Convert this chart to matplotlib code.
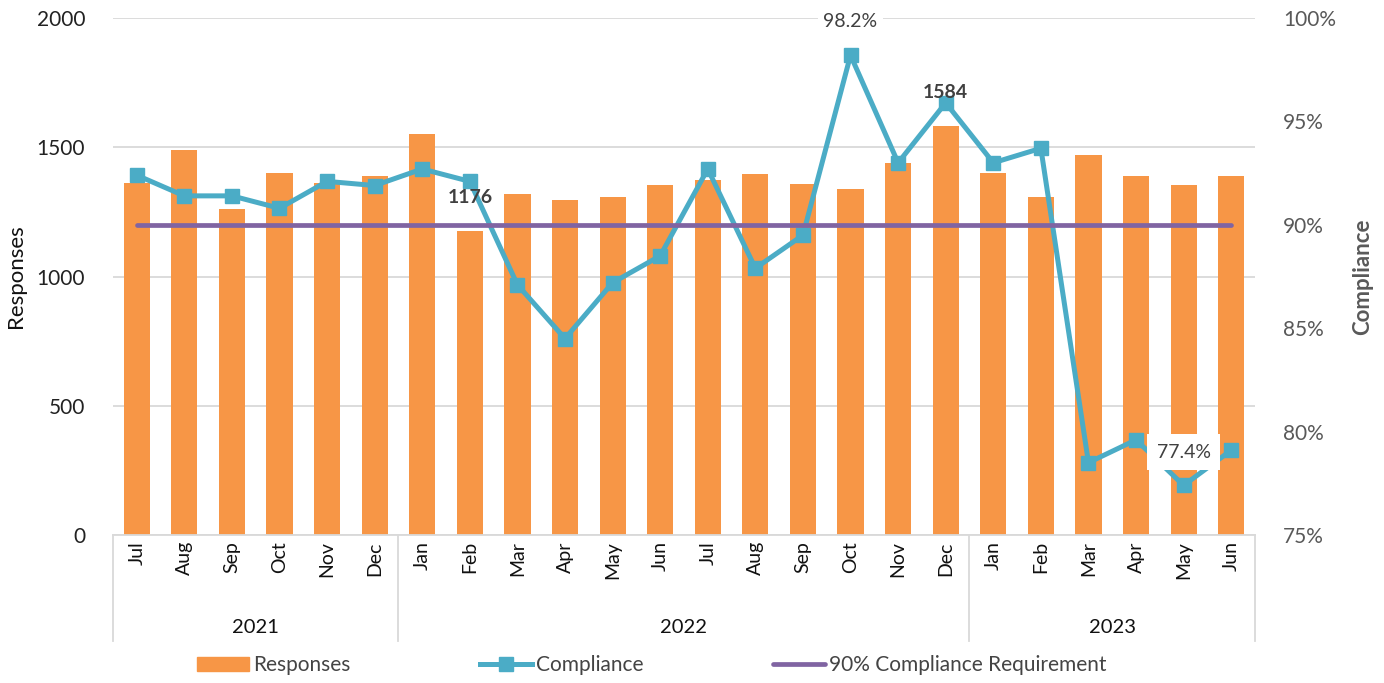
import matplotlib
matplotlib.use("Agg")
import matplotlib.pyplot as plt
import matplotlib.transforms as mtransforms
from matplotlib.lines import Line2D
from matplotlib.patches import Patch
import numpy as np

plt.rcParams['font.family'] = ['Lato', 'DejaVu Sans']

months = ['Jul', 'Aug', 'Sep', 'Oct', 'Nov', 'Dec',
          'Jan', 'Feb', 'Mar', 'Apr', 'May', 'Jun', 'Jul', 'Aug', 'Sep', 'Oct', 'Nov', 'Dec',
          'Jan', 'Feb', 'Mar', 'Apr', 'May', 'Jun']
years = ['2021', '2022', '2023']
year_counts = [6, 12, 6]

responses = [1360, 1490, 1260, 1401, 1362, 1390,
             1550, 1176, 1321, 1297, 1309, 1353, 1373, 1395, 1358, 1340, 1438, 1584,
             1401, 1309, 1470, 1390, 1353, 1390]
compliance = [92.4, 91.4, 91.4, 90.8, 92.1, 91.9,
              92.7, 92.1, 87.1, 84.5, 87.2, 88.5, 92.7, 87.9, 89.5, 98.2, 93.0, 95.9,
              93.0, 93.7, 78.5, 79.6, 77.4, 79.1]
requirement = 90.0

orange = '#F79646'
teal = '#4BACC6'
purple = '#8064A2'
grid = '#D9D9D9'
gray = '#595959'

x = np.arange(len(months))

fig = plt.figure(figsize=(13.84, 6.83), dpi=100)
ax = fig.add_axes([0.0816, 0.2167, 0.8252, 0.7569])
ax2 = ax.twinx()

ax.bar(x, responses, width=0.55, color=orange, zorder=2)
ax.set_ylim(0, 2000)
ax.set_xlim(-0.5, len(months) - 0.5)
ax.set_yticks([0, 500, 1000, 1500, 2000])
ax.yaxis.grid(True, color=grid, linewidth=1.3, zorder=0)
ax.set_axisbelow(True)
ax.tick_params(axis='y', length=0, labelsize=15, labelcolor='#222222', pad=20)
ax.set_xticks([])
for s in ['top', 'right', 'left']:
    ax.spines[s].set_visible(False)
ax.spines['bottom'].set_color(grid)
ax.spines['bottom'].set_linewidth(1.3)
ax.set_ylabel('Responses', fontsize=16, color='#111111', labelpad=8)

ax2.plot(x, compliance, color=teal, linewidth=3.6, marker='s', markersize=10,
         zorder=3)
ax2.plot([x[0], x[-1]], [requirement, requirement], color=purple, linewidth=3.4,
         solid_capstyle='round', zorder=4)
ax2.set_ylim(75, 100)
ax2.set_yticks([75, 80, 85, 90, 95, 100])
ax2.set_yticklabels([f'{v}%' for v in [75, 80, 85, 90, 95, 100]])
ax2.tick_params(axis='y', length=0, labelsize=15, labelcolor=gray, pad=20)
for s in ['top', 'right', 'left', 'bottom']:
    ax2.spines[s].set_visible(False)
ax2.set_ylabel('Compliance', fontsize=16, color=gray, fontweight='bold', labelpad=12)

# data labels (drawn on the top axes so they sit above the line)
for i in [7, 17]:
    ax2.annotate(str(responses[i]), (x[i], responses[i]), xycoords=ax.transData,
                 xytext=(0, 24), textcoords='offset points', ha='center',
                 va='center', fontsize=14, fontweight='bold', color='#404040',
                 zorder=6)
ax2.annotate('98.2%', (x[15], compliance[15]), xytext=(0, 24),
             textcoords='offset points', ha='center', va='center', fontsize=14,
             color='#404040', zorder=6,
             bbox=dict(boxstyle='square,pad=0.3', fc='white', ec='none'))
ax2.annotate('77.4%', (x[22], compliance[22]), xytext=(0, 24),
             textcoords='offset points', ha='center', va='center', fontsize=14,
             color='#404040', zorder=6,
             bbox=dict(boxstyle='square,pad=0.5', fc='white', ec='none'))

# two-level category axis
trans = mtransforms.blended_transform_factory(ax.transData, ax.transAxes)
for i, m in enumerate(months):
    ax.text(x[i], -0.012, m, transform=trans, rotation=90, ha='center', va='top',
            fontsize=14, color='#111111')
start = -0.5
bounds = [start]
for yr, n in zip(years, year_counts):
    ax.text(start + n / 2, -0.178, yr, transform=trans, ha='center', va='center',
            fontsize=14.5, color='#111111')
    start += n
    bounds.append(start)
for b in bounds:
    ax.plot([b, b], [0, -0.205], transform=trans, color=grid, linewidth=1.3,
            clip_on=False)

handles = [Patch(color=orange),
           Line2D([], [], color=teal, linewidth=3.6, marker='s', markersize=10),
           Line2D([], [], color=purple, linewidth=3.4, solid_capstyle='round')]
labels = ['Responses', 'Compliance', '90% Compliance Requirement']
fig.legend(handles, labels, loc='center', bbox_to_anchor=(0.471, 0.026), ncol=3,
           frameon=False, fontsize=15, handlelength=2.5, columnspacing=6.2,
           handletextpad=0.2, labelcolor='#444444')

fig.savefig('out.png', dpi=100)
